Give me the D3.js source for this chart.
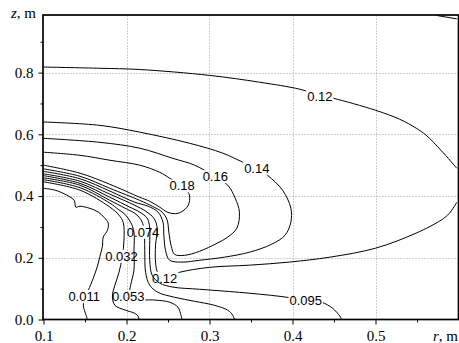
<!DOCTYPE html>
<meta charset="utf-8">
<style>
    body { margin: 0; background: #fff; }
    svg { display: block; }
    .axis text { fill: #000; }
    .axis line { stroke: #000; stroke-width: 1; }
    .axis path { display: none; }
    .grid line { stroke: #a0a0a0; stroke-width: 1; stroke-dasharray: 1, 2; }
    .frame { fill: none; stroke: #000; stroke-width: 1.7; }
    path.contour { fill: none; stroke: #000; stroke-width: 1; }
    text.clabel { font: 13px "Liberation Sans", Arial, sans-serif; fill: #000; text-anchor: middle; }
</style>
<body>
<script src="https://cdn.jsdelivr.net/npm/d3@7"></script>
<script>

    var width = 459, height = 343;
    var serif = "'Liberation Serif', 'Times New Roman', 'DejaVu Serif', serif";

    // contour traces, [r, z] in metres
    var c011 = [[0.1,0.425],[0.114,0.419],[0.128,0.403],[0.137,0.386],[0.139,0.364],[0.144,0.367],
        [0.156,0.360],[0.166,0.348],[0.173,0.331],[0.178,0.312],[0.177,0.289],[0.172,0.267],
        [0.171,0.237],[0.168,0.205],[0.165,0.173],[0.160,0.134],[0.154,0.095],[0.150,0.072],
        [0.148,0.046],[0.150,0.024],[0.153,0]];
    var c032 = [[0.1,0.446],[0.144,0.419],[0.180,0.364],[0.191,0.338],[0.196,0.315],[0.197,0.257],
        [0.195,0.205],[0.191,0.153],[0.186,0.111],[0.183,0.076],[0.186,0.046],[0.199,0.030],
        [0.210,0.020],[0.214,0.011],[0.215,0]];
    var c053 = [[0.1,0.453],[0.144,0.427],[0.180,0.377],[0.190,0.357],[0.198,0.341],[0.205,0.315],
        [0.209,0.283],[0.209,0.224],[0.209,0.160],[0.205,0.111],[0.204,0.082],[0.211,0.066],
        [0.234,0.063],[0.252,0.056],[0.262,0.040],[0.265,0.020],[0.267,0]];
    var c074 = [[0.1,0.459],[0.144,0.435],[0.180,0.386],[0.198,0.361],[0.210,0.344],[0.217,0.325],
        [0.221,0.296],[0.222,0.224],[0.223,0.153],[0.228,0.111],[0.238,0.088],[0.258,0.072],
        [0.282,0.059],[0.306,0.046],[0.322,0.030],[0.328,0.014],[0.330,0]];
    var c095 = [[0.1,0.466],[0.144,0.441],[0.180,0.396],[0.204,0.364],[0.216,0.348],[0.225,0.328],
        [0.228,0.296],[0.228,0.257],[0.228,0.192],[0.231,0.143],[0.240,0.118],[0.256,0.105],
        [0.288,0.098],[0.336,0.088],[0.385,0.075],[0.415,0.063],[0.435,0.056],[0.448,0.037],
        [0.457,0.011],[0.459,0]];
    var c095corner = [[0.574,0.985],[0.598,0.974]];
    var c12upper = [[0.1,0.818],[0.168,0.814],[0.216,0.810],[0.300,0.791],[0.360,0.769],[0.409,0.746],
        [0.433,0.726],[0.449,0.717],[0.500,0.678],[0.529,0.649],[0.549,0.620],[0.561,0.597],
        [0.579,0.548],[0.598,0.490]];
    var c12lower = [[0.598,0.380],[0.589,0.344],[0.579,0.322],[0.549,0.280],[0.500,0.231],[0.445,0.202],
        [0.396,0.186],[0.348,0.176],[0.300,0.169],[0.264,0.153],[0.246,0.137],[0.238,0.150],
        [0.235,0.186],[0.235,0.241],[0.237,0.296],[0.233,0.328],[0.223,0.351],[0.210,0.370],
        [0.180,0.406],[0.144,0.448],[0.1,0.472]];
    var c14 = [[0.1,0.640],[0.168,0.629],[0.216,0.607],[0.276,0.571],[0.316,0.539],[0.340,0.510],
        [0.357,0.490],[0.370,0.467],[0.388,0.419],[0.398,0.361],[0.398,0.315],[0.391,0.273],
        [0.375,0.244],[0.348,0.218],[0.318,0.202],[0.288,0.192],[0.267,0.186],[0.252,0.192],
        [0.247,0.224],[0.245,0.273],[0.244,0.315],[0.238,0.348],[0.226,0.367],[0.210,0.380],
        [0.180,0.416],[0.144,0.456],[0.1,0.480]];
    var c16 = [[0.1,0.587],[0.168,0.574],[0.216,0.555],[0.256,0.522],[0.282,0.500],[0.306,0.464],
        [0.322,0.435],[0.331,0.393],[0.336,0.348],[0.333,0.296],[0.322,0.267],[0.309,0.247],
        [0.288,0.221],[0.270,0.208],[0.258,0.211],[0.254,0.237],[0.251,0.283],[0.249,0.322],
        [0.243,0.348],[0.231,0.367],[0.216,0.386],[0.180,0.425],[0.144,0.464],[0.1,0.488]];
    var c18 = [[0.1,0.542],[0.144,0.532],[0.180,0.516],[0.216,0.500],[0.240,0.477],[0.252,0.458],
        [0.267,0.432],[0.275,0.409],[0.276,0.386],[0.273,0.364],[0.262,0.344],[0.250,0.347],
        [0.240,0.364],[0.228,0.383],[0.216,0.396],[0.180,0.438],[0.144,0.474],[0.1,0.500]];

    var contourLevels = ["0.011", "0.032", "0.053", "0.074", "0.095", "0.095", "0.12", "0.12", "0.14", "0.16", "0.18"];
    var contourLines = [c011, c032, c053, c074, c095, c095corner, c12upper, c12lower, c14, c16, c18];

    var labelText = ["0.12", "0.14", "0.16", "0.18", "0.074", "0.032", "0.12", "0.011", "0.053", "0.095"];
    var labelR = [0.433, 0.357, 0.307, 0.267, 0.220, 0.194, 0.246, 0.149, 0.202, 0.416];
    var labelZ = [0.724, 0.490, 0.463, 0.433, 0.283, 0.205, 0.134, 0.075, 0.075, 0.063];

    var xTicks = [0.1, 0.2, 0.3, 0.4, 0.5];
    var xMinor = [0.15, 0.25, 0.35, 0.45, 0.55];
    var yTicks = [0.0, 0.2, 0.4, 0.6, 0.8];
    var yMinor = [0.1, 0.3, 0.5, 0.7, 0.9];

    var x = d3.scaleLinear().domain([0.1, 0.6]).range([43.5, 458.5]);
    var y = d3.scaleLinear().domain([0, 0.985]).range([319.5, 15.5]);

    var svg = d3.select("body").append("svg")
            .attr("width", width)
            .attr("height", height);

    var defs = svg.append("defs");

    // grid
    var grid = svg.append("g").attr("class", "grid");
    grid.selectAll("line.v").data(xTicks.slice(1)).join("line")
            .attr("class", "v")
            .attr("x1", function(d) { return Math.round(x(d)) + 0.5; })
            .attr("x2", function(d) { return Math.round(x(d)) + 0.5; })
            .attr("y1", y.range()[1]).attr("y2", y.range()[0]);
    grid.selectAll("line.h").data(yTicks.slice(1)).join("line")
            .attr("class", "h")
            .attr("y1", function(d) { return Math.round(y(d)) + 0.5; })
            .attr("y2", function(d) { return Math.round(y(d)) + 0.5; })
            .attr("x1", x.range()[0]).attr("x2", x.range()[1]);

    var lineGroup = svg.append("g").attr("class", "contours");
    var labelGroup = svg.append("g").attr("class", "labels");

    var labels = labelGroup.selectAll("text").data(labelText).join("text")
            .attr("class", "clabel")
            .attr("x", function(d, i) { return x(labelR[i]); })
            .attr("y", function(d, i) { return y(labelZ[i]); })
            .attr("dy", "0.35em")
            .text(function(d) { return d; });

    var boxes = labels.nodes().map(function(n, i) { return { t: labelText[i], b: n.getBBox() }; });

    var line = d3.line()
            .x(function(d) { return x(d[0]); })
            .y(function(d) { return y(d[1]); })
            .curve(d3.curveCatmullRom.alpha(0.5));

    // each line gets a gap where its own label sits
    contourLines.forEach(function(pts, i) {
        var m = defs.append("mask")
                .attr("id", "m" + i)
                .attr("maskUnits", "userSpaceOnUse")
                .attr("x", 0).attr("y", 0).attr("width", width).attr("height", height);
        m.append("rect").attr("width", width).attr("height", height).attr("fill", "#fff");
        boxes.filter(function(b) { return b.t === contourLevels[i]; }).forEach(function(b) {
            m.append("rect")
                    .attr("x", b.b.x - 1).attr("y", b.b.y + 1)
                    .attr("width", b.b.width + 2).attr("height", b.b.height - 2)
                    .attr("fill", "#000");
        });
        lineGroup.append("path")
                .attr("class", "contour")
                .attr("mask", "url(#m" + i + ")")
                .attr("d", line(pts));
    });

    // axes
    var fmt = d3.format(".1f");
    function styleAxis(g) {
        g.attr("font-family", serif).attr("font-size", 15);
        g.selectAll("text").style("font-family", serif).style("font-size", "15px");
    }
    svg.append("g").attr("class", "axis")
            .attr("transform", "translate(" + x.range()[0] + ",0)")
            .call(d3.axisLeft(y).tickValues(yTicks).tickSize(5).tickPadding(5).tickFormat(fmt))
            .call(styleAxis);
    svg.append("g").attr("class", "axis")
            .attr("transform", "translate(" + x.range()[0] + ",0)")
            .call(d3.axisLeft(y).tickValues(yMinor).tickSize(3).tickFormat(""));
    svg.append("g").attr("class", "axis")
            .attr("transform", "translate(0," + y.range()[0] + ")")
            .call(d3.axisBottom(x).tickValues(xTicks).tickSize(5).tickPadding(5.5).tickFormat(fmt))
            .call(styleAxis);
    svg.append("g").attr("class", "axis")
            .attr("transform", "translate(0," + y.range()[0] + ")")
            .call(d3.axisBottom(x).tickValues(xMinor).tickSize(3).tickFormat(""));

    svg.append("rect")
            .attr("class", "frame")
            .attr("x", x.range()[0] - 0.5)
            .attr("y", y.range()[1] - 0.5)
            .attr("width", x.range()[1] - x.range()[0] + 0.5)
            .attr("height", y.range()[0] - y.range()[1] + 0.5);

    var zt = svg.append("text")
            .style("font-family", serif).style("font-size", "15px")
            .attr("x", 11).attr("y", 18);
    zt.append("tspan").style("font-style", "italic").text("z");
    zt.append("tspan").text(", m");

    var rt = svg.append("text")
            .style("font-family", serif).style("font-size", "15px")
            .attr("x", 433).attr("y", 340.5);
    rt.append("tspan").style("font-style", "italic").text("r");
    rt.append("tspan").text(", m");

</script>
